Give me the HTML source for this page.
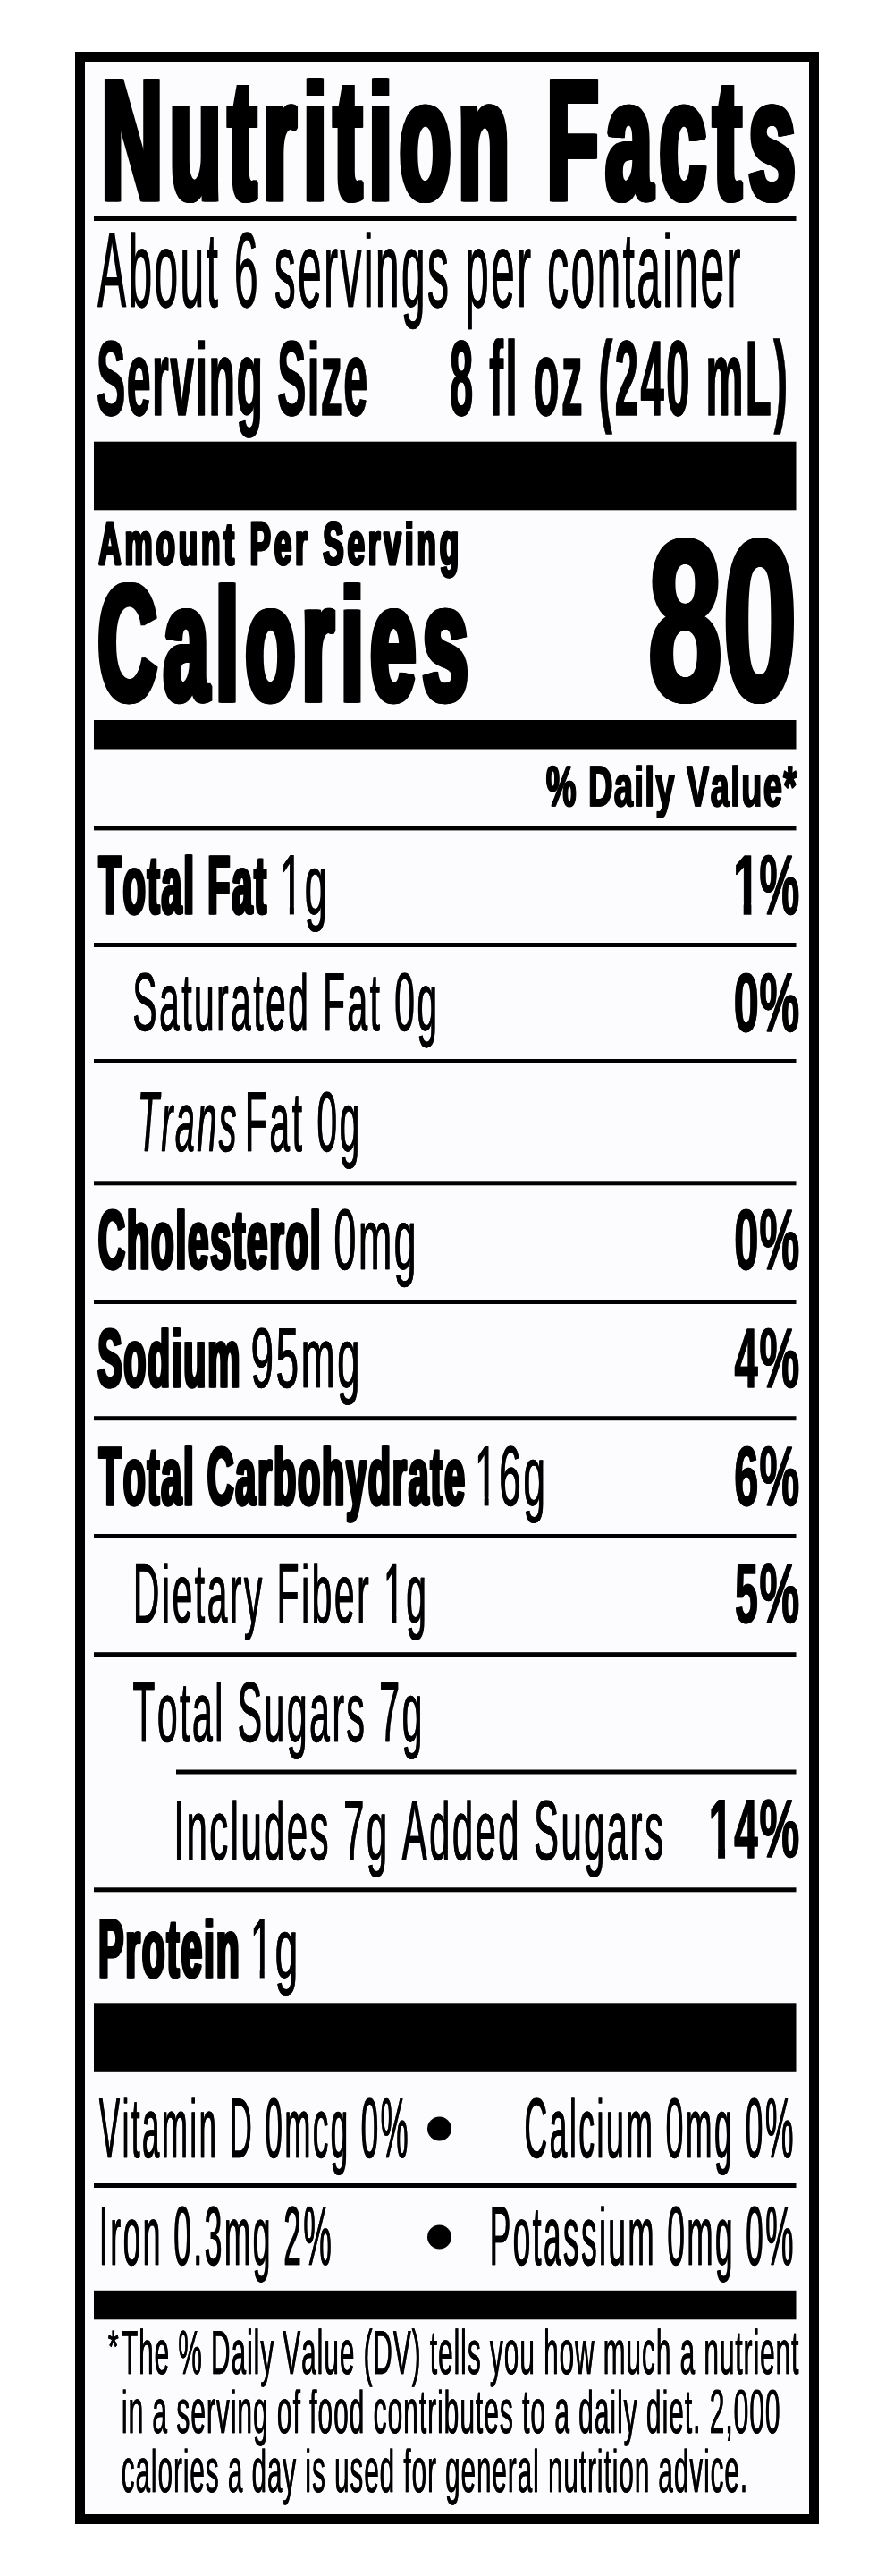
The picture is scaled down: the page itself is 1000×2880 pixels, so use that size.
<!DOCTYPE html><html lang="en"><head><meta charset="utf-8"><title>Nutrition Facts</title><style>html,body{margin:0;padding:0;background:#fff;width:1000px;height:2880px;overflow:hidden}svg{display:block;will-change:transform}text{font-family:"Liberation Sans",sans-serif;font-kerning:none;text-rendering:geometricPrecision;fill:#000}</style></head><body>
<svg width="1000" height="2880" viewBox="0 0 1000 2880">
<rect x="0" y="0" width="1000" height="2880" fill="#fff"/>
<rect x="90" y="64" width="820" height="2752" fill="#fcfcfe"/>
<rect x="84" y="58" width="832" height="11" fill="#000"/>
<rect x="84" y="2811" width="832" height="11" fill="#000"/>
<rect x="84" y="58" width="11" height="2764" fill="#000"/>
<rect x="905" y="58" width="11" height="2764" fill="#000"/>
<rect x="105" y="242" width="785.5" height="5" fill="#000"/>
<rect x="105" y="493.7" width="785.5" height="76.6" fill="#000"/>
<rect x="105" y="805" width="785.5" height="32.5" fill="#000"/>
<rect x="105" y="923.4" width="785.5" height="5" fill="#000"/>
<rect x="105" y="1054" width="785.5" height="5" fill="#000"/>
<rect x="105" y="1184" width="785.5" height="5" fill="#000"/>
<rect x="105" y="1320.3" width="785.5" height="5" fill="#000"/>
<rect x="105" y="1453" width="785.5" height="5" fill="#000"/>
<rect x="105" y="1583.2" width="785.5" height="5" fill="#000"/>
<rect x="105" y="1715" width="785.5" height="5" fill="#000"/>
<rect x="105" y="1847.2" width="785.5" height="5" fill="#000"/>
<rect x="197" y="1978.5" width="693.5" height="5" fill="#000"/>
<rect x="105" y="2110.3" width="785.5" height="5" fill="#000"/>
<rect x="105" y="2239.3" width="785.5" height="76.5" fill="#000"/>
<rect x="105" y="2441" width="785.5" height="5" fill="#000"/>
<rect x="105" y="2560.8" width="785.5" height="32.5" fill="#000"/>
<circle cx="491.5" cy="2380" r="13.5" fill="#000"/>
<circle cx="491.5" cy="2501" r="13.5" fill="#000"/>
<clipPath id="c0"><rect x="0" y="87.40" width="1000" height="274"/></clipPath><g clip-path="url(#c0)">
<text id="t0" transform="translate(112.32 221.75) scale(0.4959 1)" font-size="189.68" font-weight="bold" stroke="#000" stroke-width="6.50" stroke-linejoin="miter" stroke-miterlimit="1.5" letter-spacing="16.133">Nutrition Facts</text>
<use href="#t0" transform="translate(0.82 0)"/>
<use href="#t0" transform="translate(1.64 0)"/>
<use href="#t0" transform="translate(2.46 0)"/>
<use href="#t0" transform="translate(3.28 0)"/>
</g>
<clipPath id="c1"><rect x="0" y="259.40" width="1000" height="166"/></clipPath><g clip-path="url(#c1)">
<text id="t1" transform="translate(109.03 342.70) scale(0.3981 1)" font-size="119.77" font-weight="normal" stroke="#000" stroke-width="0.60" stroke-linejoin="miter" stroke-miterlimit="1.5" letter-spacing="6.279">About 6 servings per container</text>
<use href="#t1" transform="translate(0.36 0)"/>
</g>
<clipPath id="c2"><rect x="0" y="380.40" width="1000" height="166"/></clipPath><g clip-path="url(#c2)">
<text id="t2" transform="translate(107.81 463.50) scale(0.4043 1)" font-size="119.19" font-weight="bold" stroke="#000" stroke-width="1.00" stroke-linejoin="miter" stroke-miterlimit="1.5" letter-spacing="3.710">Serving Size</text>
<use href="#t2" transform="translate(0.60 0)"/>
</g>
<clipPath id="c3"><rect x="0" y="378.60" width="1000" height="107.00"/></clipPath><g clip-path="url(#c3)">
<text id="t3" transform="translate(502.70 463.50) scale(0.3953 1)" font-size="119.19" font-weight="bold" stroke="#000" stroke-width="1.00" stroke-linejoin="miter" stroke-miterlimit="1.5" letter-spacing="6.324">8 fl oz (240 mL)</text>
<use href="#t3" transform="translate(0.60 0)"/>
</g>
<clipPath id="c4"><rect x="0" y="582.90" width="1000" height="96"/></clipPath><g clip-path="url(#c4)">
<text id="t4" transform="translate(109.81 630.70) scale(0.5217 1)" font-size="66.72" font-weight="bold" stroke="#000" stroke-width="2.60" stroke-linejoin="miter" stroke-miterlimit="1.5" letter-spacing="7.667">Amount Per Serving</text>
<use href="#t4" transform="translate(0.62 0)"/>
<use href="#t4" transform="translate(1.24 0)"/>
</g>
<clipPath id="c5"><rect x="0" y="651.40" width="1000" height="266"/></clipPath><g clip-path="url(#c5)">
<text id="t5" transform="translate(107.96 781.60) scale(0.4941 1)" font-size="183.43" font-weight="bold" stroke="#000" stroke-width="6.80" stroke-linejoin="miter" stroke-miterlimit="1.5" letter-spacing="16.193">Calories</text>
<use href="#t5" transform="translate(0.86 0)"/>
<use href="#t5" transform="translate(1.72 0)"/>
<use href="#t5" transform="translate(2.58 0)"/>
<use href="#t5" transform="translate(3.44 0)"/>
</g>
<text id="t6" transform="translate(723.71 782.41) scale(0.5880 1)" font-size="255.22" font-weight="bold" stroke="#000" stroke-width="5.00" stroke-linejoin="miter" stroke-miterlimit="1.5">80</text>
<use href="#t6" transform="translate(0.69 0)"/>
<use href="#t6" transform="translate(1.37 0)"/>
<use href="#t6" transform="translate(2.06 0)"/>
<clipPath id="c7"><rect x="0" y="855.40" width="1000" height="90"/></clipPath><g clip-path="url(#c7)">
<text id="t7" transform="translate(610.56 900.75) scale(0.5930 1)" font-size="63.81" font-weight="bold" stroke="#000" stroke-width="1.70" stroke-linejoin="miter" stroke-miterlimit="1.5" letter-spacing="2.530">% Daily Value*</text>
<use href="#t7" transform="translate(0.69 0)"/>
</g>
<clipPath id="c8"><rect x="0" y="955.40" width="1000" height="132"/></clipPath><g clip-path="url(#c8)">
<text id="t8" transform="translate(109.71 1020.50) scale(0.4494 1)" font-size="91.57" font-weight="bold" stroke="#000" stroke-width="3.00" stroke-linejoin="miter" stroke-miterlimit="1.5" letter-spacing="4.450">Total Fat</text>
<use href="#t8" transform="translate(0.83 0)"/>
<use href="#t8" transform="translate(1.65 0)"/>
</g>
<mask id="m9" maskUnits="userSpaceOnUse" x="0" y="0" width="1000" height="2880"><rect x="0" y="0" width="1000" height="2880" fill="#fff"/><rect x="315.09" y="1012.80" width="8.79" height="10.70" fill="#000"/><rect x="328.91" y="1012.80" width="8.44" height="10.70" fill="#000"/></mask><g mask="url(#m9)">
<clipPath id="c9"><rect x="0" y="955.40" width="1000" height="132"/></clipPath><g clip-path="url(#c9)">
<text id="t9" transform="translate(312.76 1021.70) scale(0.4797 1)" font-size="95.06" font-weight="normal" stroke="#000" stroke-width="0.60" stroke-linejoin="miter" stroke-miterlimit="1.5" letter-spacing="5.211">1g</text>
<use href="#t9" transform="translate(0.31 0)"/>
</g>
</g>
<mask id="m10" maskUnits="userSpaceOnUse" x="0" y="0" width="1000" height="2880"><rect x="0" y="0" width="1000" height="2880" fill="#fff"/><rect x="821.81" y="1009.86" width="9.88" height="13.64" fill="#000"/><rect x="840.40" y="1009.86" width="9.20" height="13.64" fill="#000"/></mask><g mask="url(#m10)">
<clipPath id="c10"><rect x="0" y="955.40" width="1000" height="132"/></clipPath><g clip-path="url(#c10)">
<text id="t10" transform="translate(819.74 1021.50) scale(0.5638 1)" font-size="94.48" font-weight="bold" stroke="#000" stroke-width="1.00" stroke-linejoin="miter" stroke-miterlimit="1.5">1</text>
<use href="#t10" transform="translate(0.44 0)"/>
</g>
</g>
<text id="t11" transform="translate(849.31 1021.56) scale(0.5308 1)" font-size="94.65" font-weight="bold" stroke="#000" stroke-width="1.00" stroke-linejoin="miter" stroke-miterlimit="1.5">%</text>
<use href="#t11" transform="translate(0.47 0)"/>
<clipPath id="c12"><rect x="0" y="1087.40" width="1000" height="128"/></clipPath><g clip-path="url(#c12)">
<text id="t12" transform="translate(148.28 1151.70) scale(0.4415 1)" font-size="92.15" font-weight="normal" stroke="#000" stroke-width="0.60" stroke-linejoin="miter" stroke-miterlimit="1.5" letter-spacing="5.663">Saturated Fat 0g</text>
<use href="#t12" transform="translate(0.34 0)"/>
</g>
<clipPath id="c13"><rect x="0" y="1087.40" width="1000" height="130"/></clipPath><g clip-path="url(#c13)">
<text id="t13" transform="translate(820.58 1152.50) scale(0.5425 1)" font-size="93.02" font-weight="bold" stroke="#000" stroke-width="1.00" stroke-linejoin="miter" stroke-miterlimit="1.5">0</text>
<use href="#t13" transform="translate(0.46 0)"/>
</g>
<text id="t14" transform="translate(849.32 1152.57) scale(0.5389 1)" font-size="93.23" font-weight="bold" stroke="#000" stroke-width="1.00" stroke-linejoin="miter" stroke-miterlimit="1.5">%</text>
<use href="#t14" transform="translate(0.46 0)"/>
<clipPath id="c15"><rect x="0" y="1220.40" width="1000" height="132"/></clipPath><g clip-path="url(#c15)">
<text id="t15" transform="translate(153.58 1286.70) scale(0.4146 1)" font-size="95.06" font-weight="normal" font-style="italic" stroke="#000" stroke-width="0.60" stroke-linejoin="miter" stroke-miterlimit="1.5" letter-spacing="6.029">Trans</text>
<use href="#t15" transform="translate(0.35 0)"/>
</g>
<clipPath id="c16"><rect x="0" y="1220.40" width="1000" height="132"/></clipPath><g clip-path="url(#c16)">
<text id="t16" transform="translate(273.78 1286.70) scale(0.4300 1)" font-size="95.06" font-weight="normal" stroke="#000" stroke-width="0.60" stroke-linejoin="miter" stroke-miterlimit="1.5" letter-spacing="5.814">Fat 0g</text>
<use href="#t16" transform="translate(0.34 0)"/>
</g>
<clipPath id="c17"><rect x="0" y="1351.40" width="1000" height="134"/></clipPath><g clip-path="url(#c17)">
<text id="t17" transform="translate(108.97 1417.50) scale(0.4468 1)" font-size="93.02" font-weight="bold" stroke="#000" stroke-width="3.00" stroke-linejoin="miter" stroke-miterlimit="1.5" letter-spacing="4.476">Cholesterol</text>
<use href="#t17" transform="translate(0.83 0)"/>
<use href="#t17" transform="translate(1.66 0)"/>
</g>
<clipPath id="c18"><rect x="0" y="1351.40" width="1000" height="134"/></clipPath><g clip-path="url(#c18)">
<text id="t18" transform="translate(373.19 1418.70) scale(0.4647 1)" font-size="96.51" font-weight="normal" stroke="#000" stroke-width="0.60" stroke-linejoin="miter" stroke-miterlimit="1.5" letter-spacing="5.380">0mg</text>
<use href="#t18" transform="translate(0.32 0)"/>
</g>
<clipPath id="c19"><rect x="0" y="1351.40" width="1000" height="134"/></clipPath><g clip-path="url(#c19)">
<text id="t19" transform="translate(820.92 1418.50) scale(0.5085 1)" font-size="95.93" font-weight="bold" stroke="#000" stroke-width="1.00" stroke-linejoin="miter" stroke-miterlimit="1.5">0</text>
<use href="#t19" transform="translate(0.49 0)"/>
</g>
<text id="t20" transform="translate(849.31 1418.55) scale(0.5230 1)" font-size="96.08" font-weight="bold" stroke="#000" stroke-width="1.00" stroke-linejoin="miter" stroke-miterlimit="1.5">%</text>
<use href="#t20" transform="translate(0.48 0)"/>
<clipPath id="c21"><rect x="0" y="1484.40" width="1000" height="132"/></clipPath><g clip-path="url(#c21)">
<text id="t21" transform="translate(108.49 1549.50) scale(0.4441 1)" font-size="91.57" font-weight="bold" stroke="#000" stroke-width="3.00" stroke-linejoin="miter" stroke-miterlimit="1.5" letter-spacing="4.504">Sodium</text>
<use href="#t21" transform="translate(0.83 0)"/>
<use href="#t21" transform="translate(1.67 0)"/>
</g>
<clipPath id="c22"><rect x="0" y="1484.40" width="1000" height="132"/></clipPath><g clip-path="url(#c22)">
<text id="t22" transform="translate(280.50 1550.70) scale(0.4815 1)" font-size="95.06" font-weight="normal" stroke="#000" stroke-width="0.60" stroke-linejoin="miter" stroke-miterlimit="1.5" letter-spacing="5.192">95mg</text>
<use href="#t22" transform="translate(0.31 0)"/>
</g>
<clipPath id="c23"><rect x="0" y="1484.40" width="1000" height="132"/></clipPath><g clip-path="url(#c23)">
<text id="t23" transform="translate(821.14 1550.50) scale(0.4980 1)" font-size="94.48" font-weight="bold" stroke="#000" stroke-width="1.00" stroke-linejoin="miter" stroke-miterlimit="1.5">4</text>
<use href="#t23" transform="translate(0.50 0)"/>
</g>
<text id="t24" transform="translate(849.31 1550.56) scale(0.5308 1)" font-size="94.65" font-weight="bold" stroke="#000" stroke-width="1.00" stroke-linejoin="miter" stroke-miterlimit="1.5">%</text>
<use href="#t24" transform="translate(0.47 0)"/>
<clipPath id="c25"><rect x="0" y="1616.40" width="1000" height="132"/></clipPath><g clip-path="url(#c25)">
<text id="t25" transform="translate(109.91 1681.50) scale(0.4469 1)" font-size="91.57" font-weight="bold" stroke="#000" stroke-width="3.00" stroke-linejoin="miter" stroke-miterlimit="1.5" letter-spacing="4.476">Total Carbohydrate</text>
<use href="#t25" transform="translate(0.83 0)"/>
<use href="#t25" transform="translate(1.66 0)"/>
</g>
<mask id="m26" maskUnits="userSpaceOnUse" x="0" y="0" width="1000" height="2880"><rect x="0" y="0" width="1000" height="2880" fill="#fff"/><rect x="533.11" y="1673.80" width="8.58" height="10.70" fill="#000"/><rect x="546.61" y="1673.80" width="8.23" height="10.70" fill="#000"/></mask><g mask="url(#m26)">
<clipPath id="c26"><rect x="0" y="1616.40" width="1000" height="132"/></clipPath><g clip-path="url(#c26)">
<text id="t26" transform="translate(530.87 1682.70) scale(0.4667 1)" font-size="95.06" font-weight="normal" stroke="#000" stroke-width="0.60" stroke-linejoin="miter" stroke-miterlimit="1.5" letter-spacing="5.356">16g</text>
<use href="#t26" transform="translate(0.32 0)"/>
</g>
</g>
<clipPath id="c27"><rect x="0" y="1616.40" width="1000" height="132"/></clipPath><g clip-path="url(#c27)">
<text id="t27" transform="translate(821.07 1682.50) scale(0.5167 1)" font-size="94.48" font-weight="bold" stroke="#000" stroke-width="1.00" stroke-linejoin="miter" stroke-miterlimit="1.5">6</text>
<use href="#t27" transform="translate(0.48 0)"/>
</g>
<text id="t28" transform="translate(849.31 1682.56) scale(0.5308 1)" font-size="94.65" font-weight="bold" stroke="#000" stroke-width="1.00" stroke-linejoin="miter" stroke-miterlimit="1.5">%</text>
<use href="#t28" transform="translate(0.47 0)"/>
<mask id="m29" maskUnits="userSpaceOnUse" x="0" y="0" width="1000" height="2880"><rect x="0" y="0" width="1000" height="2880" fill="#fff"/><rect x="430.82" y="1805.35" width="7.96" height="10.65" fill="#000"/><rect x="443.39" y="1805.35" width="7.64" height="10.65" fill="#000"/></mask><g mask="url(#m29)">
<clipPath id="c29"><rect x="0" y="1748.40" width="1000" height="130"/></clipPath><g clip-path="url(#c29)">
<text id="t29" transform="translate(148.78 1814.20) scale(0.4329 1)" font-size="94.33" font-weight="normal" stroke="#000" stroke-width="0.60" stroke-linejoin="miter" stroke-miterlimit="1.5" letter-spacing="5.775">Dietary Fiber 1g</text>
<use href="#t29" transform="translate(0.34 0)"/>
</g>
</g>
<clipPath id="c30"><rect x="0" y="1748.40" width="1000" height="130"/></clipPath><g clip-path="url(#c30)">
<text id="t30" transform="translate(821.81 1814.00) scale(0.4974 1)" font-size="93.75" font-weight="bold" stroke="#000" stroke-width="1.00" stroke-linejoin="miter" stroke-miterlimit="1.5">5</text>
<use href="#t30" transform="translate(0.50 0)"/>
</g>
<text id="t31" transform="translate(849.32 1814.07) scale(0.5348 1)" font-size="93.94" font-weight="bold" stroke="#000" stroke-width="1.00" stroke-linejoin="miter" stroke-miterlimit="1.5">%</text>
<use href="#t31" transform="translate(0.47 0)"/>
<clipPath id="c32"><rect x="0" y="1880.40" width="1000" height="132"/></clipPath><g clip-path="url(#c32)">
<text id="t32" transform="translate(148.21 1946.70) scale(0.4306 1)" font-size="95.06" font-weight="normal" stroke="#000" stroke-width="0.60" stroke-linejoin="miter" stroke-miterlimit="1.5" letter-spacing="5.806">Total Sugars 7g</text>
<use href="#t32" transform="translate(0.34 0)"/>
</g>
<clipPath id="c33"><rect x="0" y="2012.40" width="1000" height="132"/></clipPath><g clip-path="url(#c33)">
<text id="t33" transform="translate(194.28 2078.70) scale(0.4395 1)" font-size="95.06" font-weight="normal" stroke="#000" stroke-width="0.60" stroke-linejoin="miter" stroke-miterlimit="1.5" letter-spacing="5.689">Includes 7g Added Sugars</text>
<use href="#t33" transform="translate(0.34 0)"/>
</g>
<mask id="m34" maskUnits="userSpaceOnUse" x="0" y="0" width="1000" height="2880"><rect x="0" y="0" width="1000" height="2880" fill="#fff"/><rect x="794.25" y="2065.35" width="8.89" height="13.55" fill="#000"/><rect x="811.05" y="2065.35" width="8.29" height="13.55" fill="#000"/></mask><g mask="url(#m34)">
<clipPath id="c34"><rect x="0" y="2011.40" width="1000" height="130"/></clipPath><g clip-path="url(#c34)">
<text id="t34" transform="translate(792.51 2076.90) scale(0.5071 1)" font-size="93.61" font-weight="bold" stroke="#000" stroke-width="1.00" stroke-linejoin="miter" stroke-miterlimit="1.5" letter-spacing="3.944">14</text>
<use href="#t34" transform="translate(0.49 0)"/>
</g>
</g>
<text id="t35" transform="translate(849.32 2076.28) scale(0.5456 1)" font-size="92.10" font-weight="bold" stroke="#000" stroke-width="1.00" stroke-linejoin="miter" stroke-miterlimit="1.5">%</text>
<use href="#t35" transform="translate(0.45 0)"/>
<clipPath id="c36"><rect x="0" y="2144.40" width="1000" height="132"/></clipPath><g clip-path="url(#c36)">
<text id="t36" transform="translate(109.37 2209.50) scale(0.4611 1)" font-size="91.57" font-weight="bold" stroke="#000" stroke-width="3.00" stroke-linejoin="miter" stroke-miterlimit="1.5" letter-spacing="4.338">Protein</text>
<use href="#t36" transform="translate(0.81 0)"/>
<use href="#t36" transform="translate(1.62 0)"/>
</g>
<mask id="m37" maskUnits="userSpaceOnUse" x="0" y="0" width="1000" height="2880"><rect x="0" y="0" width="1000" height="2880" fill="#fff"/><rect x="281.78" y="2201.80" width="8.89" height="10.70" fill="#000"/><rect x="295.74" y="2201.80" width="8.53" height="10.70" fill="#000"/></mask><g mask="url(#m37)">
<clipPath id="c37"><rect x="0" y="2144.40" width="1000" height="132"/></clipPath><g clip-path="url(#c37)">
<text id="t37" transform="translate(279.41 2210.70) scale(0.4853 1)" font-size="95.06" font-weight="normal" stroke="#000" stroke-width="0.60" stroke-linejoin="miter" stroke-miterlimit="1.5" letter-spacing="5.152">1g</text>
<use href="#t37" transform="translate(0.31 0)"/>
</g>
</g>
<clipPath id="c38"><rect x="0" y="2345.40" width="1000" height="132"/></clipPath><g clip-path="url(#c38)">
<text id="t38" transform="translate(110.66 2411.70) scale(0.3664 1)" font-size="95.06" font-weight="normal" stroke="#000" stroke-width="0.60" stroke-linejoin="miter" stroke-miterlimit="1.5" letter-spacing="6.824">Vitamin D 0mcg 0%</text>
<use href="#t38" transform="translate(0.38 0)"/>
</g>
<clipPath id="c39"><rect x="0" y="2345.40" width="1000" height="132"/></clipPath><g clip-path="url(#c39)">
<text id="t39" transform="translate(586.31 2411.70) scale(0.3737 1)" font-size="95.06" font-weight="normal" stroke="#000" stroke-width="0.60" stroke-linejoin="miter" stroke-miterlimit="1.5" letter-spacing="6.690">Calcium 0mg 0%</text>
<use href="#t39" transform="translate(0.38 0)"/>
</g>
<clipPath id="c40"><rect x="0" y="2466.40" width="1000" height="130"/></clipPath><g clip-path="url(#c40)">
<text id="t40" transform="translate(110.85 2531.70) scale(0.3774 1)" font-size="93.61" font-weight="normal" stroke="#000" stroke-width="0.60" stroke-linejoin="miter" stroke-miterlimit="1.5" letter-spacing="6.625">Iron 0.3mg 2%</text>
<use href="#t40" transform="translate(0.37 0)"/>
</g>
<clipPath id="c41"><rect x="0" y="2466.40" width="1000" height="130"/></clipPath><g clip-path="url(#c41)">
<text id="t41" transform="translate(547.74 2531.70) scale(0.3745 1)" font-size="93.61" font-weight="normal" stroke="#000" stroke-width="0.60" stroke-linejoin="miter" stroke-miterlimit="1.5" letter-spacing="6.675">Potassium 0mg 0%</text>
<use href="#t41" transform="translate(0.38 0)"/>
</g>
<text id="t42" transform="translate(120.69 2641.38) scale(0.5926 1)" font-size="50.99" font-weight="normal" stroke="#000" stroke-width="0.60" stroke-linejoin="miter" stroke-miterlimit="1.5">*</text>
<use href="#t42" transform="translate(0.24 0)"/>
<text id="t43" transform="translate(135.92 2654.40) scale(0.4266 1)" font-size="69.62" font-weight="normal" stroke="#000" stroke-width="0.40" stroke-linejoin="miter" stroke-miterlimit="1.5" letter-spacing="2.344">The % Daily Value (DV) tells you how much a nutrient</text>
<use href="#t43" transform="translate(0.23 0)"/>
<clipPath id="c44"><rect x="0" y="2671.40" width="1000" height="96"/></clipPath><g clip-path="url(#c44)">
<text id="t44" transform="translate(135.79 2720.10) scale(0.4292 1)" font-size="69.62" font-weight="normal" stroke="#000" stroke-width="0.40" stroke-linejoin="miter" stroke-miterlimit="1.5" letter-spacing="2.330">in a serving of food contributes to a daily diet. 2,000</text>
<use href="#t44" transform="translate(0.23 0)"/>
</g>
<clipPath id="c45"><rect x="0" y="2737.60" width="1000" height="96"/></clipPath><g clip-path="url(#c45)">
<text id="t45" transform="translate(135.63 2786.30) scale(0.4249 1)" font-size="69.62" font-weight="normal" stroke="#000" stroke-width="0.40" stroke-linejoin="miter" stroke-miterlimit="1.5" letter-spacing="2.353">calories a day is used for general nutrition advice.</text>
<use href="#t45" transform="translate(0.23 0)"/>
</g>
</svg></body></html>
